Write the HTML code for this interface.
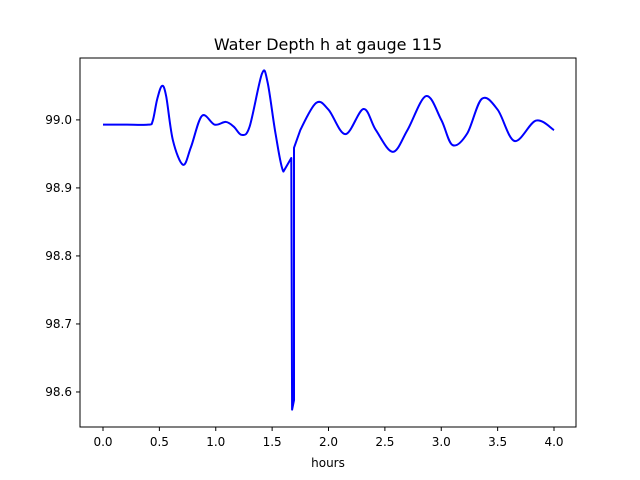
<!DOCTYPE html>
<html><head><meta charset="utf-8"><style>
body{margin:0;background:#fff;}
svg{display:block;font-family:"DejaVu Sans","Liberation Sans",sans-serif;}
</style></head><body>
<svg id="chart" width="640" height="480">
<rect width="640" height="480" fill="#fff"/>
<text x="328" y="50" font-size="16" text-anchor="middle">Water Depth h at gauge 115</text>
<g id="xt"></g>
<g id="yt"></g>
<path id="line" fill="none" stroke="#0000ff" stroke-width="2" stroke-linejoin="round"/>
<rect x="80" y="58" width="496" height="369" fill="none" stroke="#000" stroke-width="1"/>
<text x="328" y="467" font-size="12" text-anchor="middle">hours</text>
</svg>
<script>
const times=[0,0.2,0.4,0.44,0.48,0.523,0.56,0.62,0.71,0.78,0.878,0.99,1.09,1.16,1.23,1.3,1.41,1.46,1.53,1.6,1.67,1.677,1.694,1.694,1.75,1.89,2.0,2.15,2.31,2.42,2.57,2.7,2.865,3.0,3.1,3.23,3.36,3.5,3.65,3.84,4.0];
const values=[98.993,98.993,98.993,98.998,99.03,99.05,99.035,98.97,98.934,98.96,99.006,98.993,98.997,98.99,98.978,98.99,99.068,99.055,98.98,98.924,98.944,98.574,98.588,98.959,98.985,99.025,99.015,98.979,99.016,98.985,98.953,98.985,99.035,99.0,98.963,98.98,99.031,99.015,98.969,98.999,98.985];
const xTicks=[0,0.5,1,1.5,2,2.5,3,3.5,4];
const yTicks=[98.6,98.7,98.8,98.9,99.0];
const X0=80,X1=576,Y0=58,Y1=427,xmin=-0.204,xmax=4.195,ymin=98.5485,ymax=99.091;
const sx=t=>X0+(t-xmin)/(xmax-xmin)*(X1-X0);
const sy=v=>Y1-(v-ymin)/(ymax-ymin)*(Y1-Y0);
const NS="http://www.w3.org/2000/svg";
const xt=document.getElementById('xt'),yt=document.getElementById('yt');
xTicks.forEach(t=>{const x=sx(t);
 const l=document.createElementNS(NS,'line');l.setAttribute('x1',x);l.setAttribute('x2',x);l.setAttribute('y1',427);l.setAttribute('y2',431);l.setAttribute('stroke','#000');
 
 xt.appendChild(l);
 const s=document.createElementNS(NS,'text');s.setAttribute('x',x);s.setAttribute('y',446);s.setAttribute('font-size','12');s.setAttribute('text-anchor','middle');s.textContent=t.toFixed(1);
 
 xt.appendChild(s);});
yTicks.forEach(v=>{const y=sy(v);
 const l=document.createElementNS(NS,'line');l.setAttribute('x1',76);l.setAttribute('x2',80);l.setAttribute('y1',y);l.setAttribute('y2',y);l.setAttribute('stroke','#000');
 
 yt.appendChild(l);
 const s=document.createElementNS(NS,'text');s.setAttribute('x',72);s.setAttribute('y',y+4);s.setAttribute('font-size','12');s.setAttribute('text-anchor','end');s.textContent=v.toFixed(1);
 
 yt.appendChild(s);});
const P=times.map((t,i)=>[sx(t),sy(values[i])]);
let d='M'+P[0][0]+','+P[0][1];
for(let i=0;i<P.length-1;i++){
 const a=P[i],b=P[i+1];
 const sharp=Math.abs(values[i+1]-values[i])>0.1||(i>0&&Math.abs(values[i]-values[i-1])>0.1)||(i+2<P.length&&Math.abs(values[i+2]-values[i+1])>0.1)||times[i+1]===times[i];
 if(sharp){d+=' L'+b[0]+','+b[1];continue;}
 const p0=P[Math.max(0,i-1)],p3=P[Math.min(P.length-1,i+2)];
 const c1=[a[0]+(b[0]-p0[0])/6,a[1]+(b[1]-p0[1])/6],c2=[b[0]-(p3[0]-a[0])/6,b[1]-(p3[1]-a[1])/6];
 d+=' C'+c1+' '+c2+' '+b;
}
document.getElementById('line').setAttribute('d',d);
</script>
</body></html>
